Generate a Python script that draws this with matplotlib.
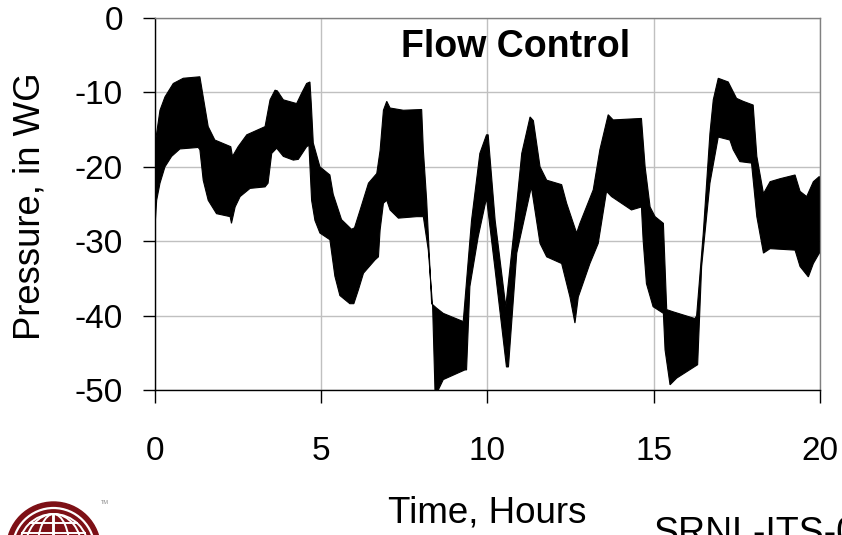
import numpy as np
import matplotlib
matplotlib.use("Agg")
import matplotlib.pyplot as plt
from matplotlib.patches import Ellipse

# ---- data: envelope of the oscillating pressure trace ----
upper_t = [0.00, 0.02, 0.15, 0.30, 0.55, 0.85, 1.35, 1.45, 1.60, 1.80, 2.28, 2.33, 2.50,
           2.76, 3.06, 3.31, 3.46, 3.61, 3.68, 3.86, 4.26, 4.41, 4.56, 4.66, 4.70, 4.76,
           4.96, 5.26, 5.36, 5.61, 5.91, 6.00, 6.17, 6.42, 6.67, 6.77, 6.87, 6.97, 7.07,
           7.47, 8.02, 8.07, 8.17, 8.32, 8.47, 8.67, 9.27, 9.52, 9.77, 9.97, 10.02, 10.23,
           10.55, 10.83, 11.03, 11.28, 11.38, 11.58, 11.78, 12.23, 12.38, 12.68, 12.78, 13.18,
           13.38, 13.63, 13.78, 14.63, 14.74, 14.89, 15.04, 15.29, 15.39, 15.59, 16.24, 16.29,
           16.49, 16.69, 16.79, 16.94, 17.24, 17.49, 17.69, 17.99, 18.10, 18.30, 18.50, 18.80,
           19.25, 19.40, 19.60, 19.80, 19.98]
upper_p = [-19.0, -16.4, -12.4, -10.6, -8.8, -8.1, -7.9, -10.6, -14.6, -16.4, -17.3, -18.6, -17.3,
           -15.7, -15.1, -14.6, -11.0, -9.7, -9.8, -11.0, -11.5, -10.1, -8.8, -8.6, -11.5, -16.8,
           -20.0, -21.1, -23.7, -27.1, -28.4, -28.2, -25.8, -22.2, -20.9, -17.8, -12.4, -11.2, -12.1,
           -12.4, -12.3, -17.7, -24.5, -38.4, -39.0, -39.7, -40.8, -27.2, -18.2, -15.7, -15.7, -27.2,
           -38.8, -27.2, -18.2, -13.3, -13.8, -20.0, -21.8, -22.4, -24.9, -28.9, -27.6, -23.1,
           -17.7, -13.0, -13.7, -13.5, -20.0, -25.4, -26.7, -27.6, -39.2, -39.5, -40.4, -40.0,
           -28.9, -15.5, -11.0, -8.1, -8.6, -10.8, -11.2, -11.7, -18.6, -23.6, -22.0, -21.6,
           -21.1, -23.3, -24.0, -22.0, -21.3]

lower_t = [0.00, 0.05, 0.15, 0.30, 0.50, 0.75, 1.30, 1.35, 1.45, 1.60, 1.85, 2.26, 2.30, 2.41,
           2.56, 2.86, 3.31, 3.40, 3.51, 3.66, 3.86, 4.16, 4.31, 4.56, 4.63, 4.71, 4.81, 4.96,
           5.26, 5.41, 5.56, 5.86, 5.98, 6.12, 6.27, 6.62, 6.72, 6.77, 6.87, 6.97, 7.07,
           7.32, 7.87, 8.07, 8.22, 8.35, 8.42, 8.52, 8.67, 8.87, 9.32, 9.37, 9.47, 9.72, 9.97,
           10.23, 10.57, 10.63, 10.88, 11.32, 11.58, 11.78, 12.23, 12.48, 12.63, 12.73, 13.08,
           13.33, 13.58, 13.73, 14.33, 14.63, 14.68, 14.78, 14.98, 15.29, 15.34, 15.49, 15.69,
           16.32, 16.44, 16.69, 16.94, 17.29, 17.39, 17.59, 17.94, 18.10, 18.30, 18.50, 19.25,
           19.40, 19.65, 19.80, 19.98]
lower_p = [-28.0, -24.5, -22.2, -20.0, -18.6, -17.6, -17.4, -17.7, -21.8, -24.5, -26.3, -26.7, -27.6, -25.4,
           -24.0, -22.9, -22.7, -22.2, -18.2, -17.5, -18.6, -19.1, -19.0, -17.3, -17.1, -24.5, -27.2, -28.9,
           -29.8, -34.7, -37.3, -38.4, -38.4, -36.5, -34.3, -32.5, -32.1, -28.5, -24.9, -24.5, -25.8,
           -26.9, -26.7, -26.7, -31.2, -38.8, -50.0, -50.0, -48.6, -48.2, -47.3, -47.3, -36.1, -29.4, -24.2,
           -33.9, -46.9, -46.9, -31.6, -22.7, -30.3, -32.1, -33.0, -37.5, -41.0, -37.5, -33.0,
           -30.3, -23.3, -24.0, -25.8, -25.4, -29.8, -35.7, -38.8, -39.7, -44.6, -49.3, -48.4,
           -46.6, -33.4, -22.2, -16.0, -16.4, -17.7, -19.3, -19.5, -26.7, -31.6, -31.0, -31.2,
           -33.4, -34.8, -33.0, -31.6]

x_ticks = [0, 5, 10, 15, 20]
y_ticks = [0, -10, -20, -30, -40, -50]

title_text = "Flow Control"
x_label = "Time, Hours"
y_label = "Pressure, in WG"
footer_text = "SRNL-ITS-0"

plt.rcParams['font.family'] = ['Liberation Sans', 'DejaVu Sans']
plt.rcParams['axes.unicode_minus'] = False

W, H = 842, 535
fig = plt.figure(figsize=(W / 100, H / 100), dpi=100)
ax = fig.add_axes([155 / W, 1 - 390 / H, 665 / W, 372 / H])

poly_t = np.r_[upper_t, lower_t[::-1]]
poly_p = np.r_[upper_p, lower_p[::-1]]
ax.fill(poly_t, poly_p, facecolor='black', edgecolor='black', lw=0.8, zorder=3)

ax.set_xlim(0, 20)
ax.set_ylim(-50, 0)
ax.set_xticks(x_ticks)
ax.set_yticks(y_ticks)
ax.grid(True, color='#c0c0c0', lw=1.0, zorder=0)
ax.set_axisbelow(True)

for s in ['top', 'right']:
    ax.spines[s].set_color('#808080')
    ax.spines[s].set_linewidth(1.0)
for s in ['left', 'bottom']:
    ax.spines[s].set_color('black')
    ax.spines[s].set_linewidth(1.0)

ax.tick_params(axis='x', direction='out', length=9, width=1.0, pad=24, labelsize=24)
ax.tick_params(axis='y', direction='out', length=9, width=1.0, pad=14, labelsize=24)

ax.text(0.542, 0.921, title_text, transform=ax.transAxes, ha='center', va='center',
        fontsize=27, fontweight='bold')

fig.text(487 / W, 1 - 513 / H, x_label, ha='center', va='center', fontsize=26.5)
fig.text(30 / W, 1 - 206 / H, y_label, ha='center', va='center', rotation=90, fontsize=26.3)
fig.text(653 / W, 1 - 544 / H, footer_text, ha='left', va='baseline', fontsize=27)

# ---- logo (decorative globe, bottom-left) ----
lax = fig.add_axes([0, 0, 1, 1], zorder=-1)
lax.set_xlim(0, W)
lax.set_ylim(H, 0)
lax.axis('off')
maroon = '#7d1016'
cx, cy, r = 53.5, 549, 47
lax.add_patch(Ellipse((cx, cy), 2 * r, 2 * r, color=maroon))
lax.add_patch(Ellipse((cx, cy), 2 * r - 12, 2 * r - 12, fill=False, ec='white', lw=1.6))
lax.add_patch(Ellipse((cx, cy), 2 * r - 24, 2 * r - 24, fill=False, ec='white', lw=1.4))
for w in [0.0, 0.45, 0.8]:
    lax.add_patch(Ellipse((cx, cy), 2 * (r - 12) * w + 0.5, 2 * (r - 12), fill=False,
                          ec='white', lw=1.4))
for yy in [cy - 26, cy - 16]:
    half = np.sqrt(max((r - 12) ** 2 - (yy - cy) ** 2, 0))
    lax.plot([cx - half, cx + half], [yy, yy], color='white', lw=1.4)
lax.text(101, 503, "TM", fontsize=4, color='#888888', ha='left', va='center')

fig.savefig("out.png", dpi=100)
